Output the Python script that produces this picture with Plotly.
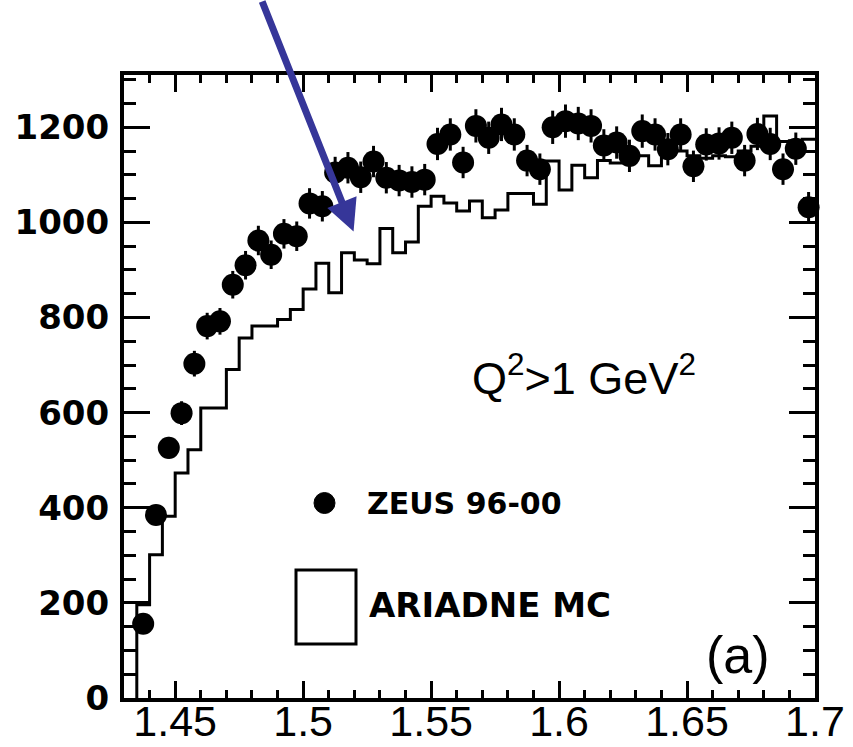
import plotly.graph_objects as go

# ---------------- data ----------------
bin_width = 0.005
first_edge = 1.435
n_bins = 53
bin_edges = [round(first_edge + i * bin_width, 4) for i in range(n_bins + 1)]
bin_centers = [round(first_edge + (i + 0.5) * bin_width, 5) for i in range(n_bins)]

zeus_values = [
    156, 385, 526, 599, 703, 782, 792, 869, 910, 962,
    932, 976, 971, 1040, 1034, 1105, 1115, 1095, 1128, 1094,
    1088, 1085, 1090, 1165, 1185, 1126, 1203, 1178, 1206, 1185,
    1130, 1112, 1200, 1213, 1208, 1203, 1162, 1168, 1140, 1192,
    1185, 1154, 1185, 1118, 1164, 1166, 1178, 1130, 1186, 1165,
    1112, 1155, 1032,
]
zeus_errors = [
    14, 20, 23, 25, 27, 28, 28, 29, 30, 31,
    30, 31, 31, 32, 32, 33, 33, 33, 33, 33,
    33, 33, 33, 34, 34, 33, 35, 34, 35, 34,
    33, 33, 35, 35, 35, 35, 34, 34, 34, 35,
    34, 34, 34, 33, 34, 34, 34, 33, 34, 34,
    33, 34, 32,
]
ariadne_values = [
    196, 301, 382, 473, 522, 610, 610, 691, 757, 782,
    782, 796, 817, 860, 914, 852, 936, 921, 913, 987,
    936, 959, 1034, 1055, 1041, 1024, 1045, 1010, 1026, 1061,
    1061, 1038, 1129, 1068, 1120, 1094, 1130, 1125, 1135, 1140,
    1119, 1145, 1150, 1140, 1135, 1140, 1138, 1150, 1160, 1224,
    1170, 1172, 1175,
]

x_tick_vals = [1.45, 1.5, 1.55, 1.6, 1.65, 1.7]
x_tick_text = ["1.45", "1.5", "1.55", "1.6", "1.65", "1.7"]
y_tick_vals = [0, 200, 400, 600, 800, 1000, 1200]
y_tick_text = ["0", "200", "400", "600", "800", "1000", "1200"]

# ---------------- figure ----------------
W, H = 853, 747
L, R, T, B = 124, 38, 75, 49
PW, PH = W - L - R, H - T - B


def px_x(px):
    return (px - L) / PW


def px_y(py):
    return (H - B - py) / PH


fig = go.Figure()

# MC histogram as step line
step_x = [bin_edges[0]] + bin_edges[:-1] + [bin_edges[-1]]
step_y = [0] + ariadne_values + [ariadne_values[-1]]
fig.add_trace(go.Scatter(
    x=step_x, y=step_y, mode="lines",
    line=dict(color="black", width=3, shape="hv"),
    showlegend=False, hoverinfo="skip", cliponaxis=True,
))

# ZEUS data points
fig.add_trace(go.Scatter(
    x=bin_centers, y=zeus_values, mode="markers",
    marker=dict(color="black", size=22, symbol="circle"),
    error_y=dict(type="data", array=zeus_errors, color="black", thickness=3, width=0),
    showlegend=False, hoverinfo="skip", cliponaxis=False,
))

axis_common = dict(
    showgrid=False, zeroline=False, showline=True, linecolor="black", linewidth=4,
    mirror="allticks", ticks="inside", tickcolor="black", automargin=False,
)

fig.update_xaxes(
    range=[1.43, 1.70], tickmode="array", tickvals=x_tick_vals, ticktext=x_tick_text,
    ticklen=17, tickwidth=3, ticklabelstandoff=-18,
    minor=dict(dtick=0.01, tick0=1.45, ticks="inside", ticklen=8, tickwidth=3, tickcolor="black"),
    tickfont=dict(family="Liberation Sans", size=43, color="black"),
    **axis_common,
)
fig.update_yaxes(
    range=[0, 1310], tickmode="array", tickvals=y_tick_vals, ticktext=y_tick_text,
    ticklen=26, tickwidth=3, ticklabelstandoff=4,
    minor=dict(dtick=50, tick0=0, ticks="inside", ticklen=12, tickwidth=3, tickcolor="black"),
    tickfont=dict(family="DejaVu Sans", size=34, color="black", weight="bold"),
    **axis_common,
)

shapes = [
    # legend marker for ZEUS
    dict(type="circle", xref="paper", yref="paper",
         x0=px_x(314), x1=px_x(335), y0=px_y(513.5), y1=px_y(492.5),
         fillcolor="black", line=dict(color="black", width=1)),
    # legend box for ARIADNE MC
    dict(type="rect", xref="paper", yref="paper",
         x0=px_x(296), x1=px_x(356), y0=px_y(644), y1=px_y(570),
         fillcolor="rgba(0,0,0,0)", line=dict(color="black", width=3)),
]

annotations = [
    dict(text="<b>ZEUS 96-00</b>", xref="paper", yref="paper",
         x=px_x(365), y=px_y(503), xanchor="left", yanchor="middle", showarrow=False,
         font=dict(family="DejaVu Sans", size=30, color="black")),
    dict(text="<b>ARIADNE MC</b>", xref="paper", yref="paper",
         x=px_x(367), y=px_y(605), xanchor="left", yanchor="middle", showarrow=False,
         font=dict(family="DejaVu Sans", size=34, color="black")),
    dict(text="Q<sup>2</sup>&gt;1 GeV<sup>2</sup>", xref="paper", yref="paper",
         x=px_x(470), y=px_y(375), xanchor="left", yanchor="middle", showarrow=False,
         font=dict(family="Liberation Sans", size=45, color="black")),
    dict(text="(a)", xref="paper", yref="paper",
         x=px_x(738), y=px_y(655), xanchor="center", yanchor="middle", showarrow=False,
         font=dict(family="Liberation Sans", size=52, color="black")),
    # blue arrow
    dict(text="", x=1.5197, y=981, xref="x", yref="y", showarrow=True,
         ax=-92, ay=-250, axref="pixel", ayref="pixel",
         arrowhead=2, arrowsize=0.9, arrowwidth=7, arrowcolor="#363699"),
]

fig.update_layout(
    width=W, height=H, margin=dict(l=L, r=R, t=T, b=B, autoexpand=False),
    paper_bgcolor="white", plot_bgcolor="white",
    shapes=shapes, annotations=annotations, showlegend=False,
)

fig.write_html("out.html")
